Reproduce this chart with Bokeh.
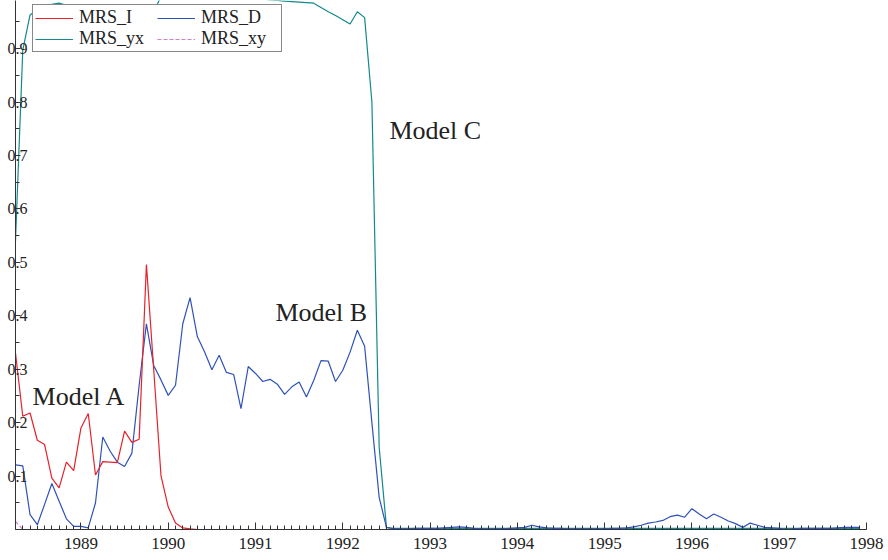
from bokeh.plotting import figure
from bokeh.models import Legend, LegendItem, FixedTicker, Range1d, Label, ColumnDataSource
from bokeh.embed import file_html
from bokeh.resources import INLINE

# monthly observations, Apr 1988 .. Dec 1997
start_year, start_month = 1988, 4
end_year, end_month = 1997, 12
t = [y + (m - 1) / 12 for y in range(start_year, end_year + 1) for m in range(1, 13)
     if (y, m) >= (start_year, start_month) and (y, m) <= (end_year, end_month)]

mrs_i = [0.330, 0.212, 0.218, 0.167, 0.159, 0.096, 0.078, 0.126, 0.110, 0.190, 0.217, 0.102,
         0.127, 0.126, 0.125, 0.184, 0.163, 0.169, 0.496, 0.300, 0.101, 0.042, 0.012, 0.003,
         0.001, 0.000, 0.000, 0.000, 0.000, 0.000, 0.000, 0.000, 0.000, 0.000, 0.000, 0.000,
         0.000, 0.000, 0.000, 0.000, 0.000, 0.000, 0.000, 0.000, 0.000, 0.000, 0.000, 0.000,
         0.000, 0.000, 0.000, 0.000, 0.000, 0.000, 0.000, 0.000, 0.000, 0.000, 0.000, 0.000,
         0.000, 0.000, 0.000, 0.000, 0.000, 0.000, 0.000, 0.000, 0.000, 0.000, 0.000, 0.000,
         0.000, 0.000, 0.000, 0.000, 0.000, 0.000, 0.000, 0.000, 0.000, 0.000, 0.000, 0.000,
         0.000, 0.000, 0.000, 0.000, 0.000, 0.000, 0.000, 0.000, 0.000, 0.000, 0.000, 0.000,
         0.000, 0.000, 0.000, 0.000, 0.000, 0.000, 0.000, 0.000, 0.000, 0.000, 0.000, 0.000,
         0.000, 0.000, 0.000, 0.000, 0.000, 0.000, 0.000, 0.000, 0.000]

mrs_d = [0.121, 0.119, 0.028, 0.009, 0.047, 0.086, 0.053, 0.020, 0.006, 0.006, 0.003, 0.050,
         0.173, 0.147, 0.126, 0.118, 0.143, 0.270, 0.385, 0.307, 0.280, 0.251, 0.270, 0.385,
         0.434, 0.361, 0.332, 0.299, 0.326, 0.294, 0.290, 0.226, 0.305, 0.292, 0.277, 0.281,
         0.272, 0.253, 0.267, 0.276, 0.248, 0.279, 0.316, 0.315, 0.277, 0.298, 0.332, 0.373,
         0.343, 0.200, 0.060, 0.004, 0.001, 0.001, 0.001, 0.002, 0.002, 0.002, 0.002, 0.003,
         0.004, 0.005, 0.004, 0.002, 0.001, 0.001, 0.001, 0.001, 0.002, 0.003, 0.004, 0.008,
         0.005, 0.003, 0.002, 0.002, 0.001, 0.001, 0.001, 0.001, 0.001, 0.001, 0.002, 0.002,
         0.003, 0.005, 0.008, 0.012, 0.014, 0.017, 0.024, 0.027, 0.023, 0.039, 0.029, 0.020,
         0.029, 0.023, 0.016, 0.011, 0.004, 0.012, 0.008, 0.004, 0.003, 0.002, 0.000, 0.001,
         0.002, 0.002, 0.002, 0.002, 0.002, 0.003, 0.004, 0.004, 0.004]

mrs_yx = [0.540, 0.897, 0.963, 0.973, 0.979, 0.983, 0.985, 0.981, 0.980, 0.979, 0.979, 0.978,
          0.977, 0.976, 0.975, 0.974, 0.973, 0.972, 0.971, 0.968, 0.998, 0.998, 0.999, 0.999,
          1.000, 1.000, 1.000, 0.999, 0.999, 0.998, 0.997, 0.996, 0.995, 0.994, 0.993, 0.991,
          0.990, 0.989, 0.988, 0.987, 0.986, 0.985, 0.977, 0.969, 0.962, 0.954, 0.946, 0.969,
          0.958, 0.800, 0.154, 0.004, 0.002, 0.002, 0.002, 0.002, 0.002, 0.002, 0.002, 0.002,
          0.002, 0.002, 0.002, 0.002, 0.002, 0.002, 0.002, 0.002, 0.002, 0.002, 0.002, 0.002,
          0.002, 0.002, 0.002, 0.002, 0.002, 0.002, 0.002, 0.002, 0.002, 0.002, 0.002, 0.002,
          0.002, 0.002, 0.002, 0.002, 0.002, 0.002, 0.002, 0.002, 0.002, 0.002, 0.002, 0.002,
          0.002, 0.002, 0.002, 0.002, 0.002, 0.002, 0.002, 0.002, 0.002, 0.002, 0.002, 0.002,
          0.002, 0.002, 0.002, 0.002, 0.002, 0.002, 0.002, 0.002, 0.002]

mrs_xy = [0.015, 0.000, 0.000, 0.000, 0.000, 0.000, 0.000, 0.000, 0.000, 0.000, 0.000, 0.000,
          0.000, 0.000, 0.000, 0.000, 0.000, 0.000, 0.000, 0.000, 0.000, 0.000, 0.000, 0.000,
          0.000, 0.000, 0.000, 0.000, 0.000, 0.000, 0.000, 0.000, 0.000, 0.000, 0.000, 0.000,
          0.000, 0.000, 0.000, 0.000, 0.000, 0.000, 0.000, 0.000, 0.000, 0.000, 0.000, 0.000,
          0.000, 0.000, 0.000, 0.000, 0.000, 0.000, 0.000, 0.000, 0.000, 0.000, 0.000, 0.000,
          0.000, 0.000, 0.000, 0.000, 0.000, 0.000, 0.000, 0.000, 0.000, 0.000, 0.000, 0.000,
          0.000, 0.000, 0.000, 0.000, 0.000, 0.000, 0.000, 0.000, 0.000, 0.000, 0.000, 0.000,
          0.000, 0.000, 0.000, 0.000, 0.000, 0.000, 0.000, 0.000, 0.000, 0.000, 0.000, 0.000,
          0.000, 0.000, 0.000, 0.000, 0.000, 0.000, 0.000, 0.000, 0.000, 0.000, 0.000, 0.000,
          0.000, 0.000, 0.000, 0.000, 0.000, 0.000, 0.000, 0.000, 0.000]

year_ticks = [1989, 1990, 1991, 1992, 1993, 1994, 1995, 1996, 1997, 1998]
y_ticks = [0.1, 0.2, 0.3, 0.4, 0.5, 0.6, 0.7, 0.8, 0.9]
y_minor = [0.05, 0.15, 0.25, 0.35, 0.45, 0.55, 0.65, 0.75, 0.85, 0.95]
month_ticks = [1988 + k / 12 for k in range(3, 12 * 10 + 1)]

notes = [("Model A", 1988.445, 0.249), ("Model B", 1991.228, 0.406), ("Model C", 1992.534, 0.747)]

series = [("MRS_I", mrs_i, "#e8202a", "solid"),
          ("MRS_D", mrs_d, "#2f52b8", "solid"),
          ("MRS_yx", mrs_yx, "#12898a", "solid"),
          ("MRS_xy", mrs_xy, "#d27fca", "4 2")]

FONT = "Liberation Serif"
TXT = "#222222"

p = figure(width=886, height=558, output_backend="svg", toolbar_location=None,
           x_range=Range1d(1988.25, 1998.0), y_range=Range1d(0.0, 0.99),
           min_border_left=15, min_border_top=0, min_border_right=20, min_border_bottom=29)
p.outline_line_color = None
p.xgrid.visible = False
p.ygrid.visible = False
p.background_fill_color = "white"
p.border_fill_color = "white"

src = ColumnDataSource(dict(t=t, MRS_I=mrs_i, MRS_D=mrs_d, MRS_yx=mrs_yx, MRS_xy=mrs_xy))
rends = {}
for name, vals, col, dash in [series[2], series[1], series[3], series[0]]:
    rends[name] = p.line("t", name, source=src, line_color=col, line_width=1.2, line_dash=dash)

xa = p.xaxis[0]
xa.ticker = FixedTicker(ticks=year_ticks, minor_ticks=month_ticks)
xa.major_tick_in = 7
xa.major_tick_out = 0
xa.minor_tick_in = 4
xa.minor_tick_out = 0
xa.axis_line_color = "#333333"
xa.major_tick_line_color = "#333333"
xa.minor_tick_line_color = "#333333"
xa.major_label_text_font = FONT
xa.major_label_text_font_size = "17px"
xa.major_label_text_color = TXT
xa.major_label_standoff = 8

ya = p.yaxis[0]
ya.ticker = FixedTicker(ticks=y_ticks, minor_ticks=y_minor)
ya.major_tick_in = 5
ya.major_tick_out = 0
ya.minor_tick_in = 4
ya.minor_tick_out = 0
ya.axis_line_color = "#333333"
ya.major_tick_line_color = "#333333"
ya.minor_tick_line_color = "#333333"
ya.major_label_text_font = FONT
ya.major_label_text_font_size = "16px"
ya.major_label_text_color = TXT
ya.major_label_standoff = -12

for txt, x, y in notes:
    p.add_layout(Label(x=x, y=y, text=txt, text_font=FONT, text_font_size="26px",
                       text_color=TXT, text_baseline="alphabetic", text_align="left"))

legend = Legend(items=[LegendItem(label=n, renderers=[rends[n]]) for n in ["MRS_I", "MRS_yx", "MRS_D", "MRS_xy"]],
                location=(17, 477), ncols=2, orientation="vertical",
                label_text_font=FONT, label_text_font_size="18px", label_text_color=TXT,
                glyph_width=38, glyph_height=16, label_height=16, label_width=78,
                label_standoff=6, spacing=0, padding=2, margin=0,
                border_line_color="#111111", border_line_width=1.2,
                background_fill_color="white", background_fill_alpha=1.0)
p.add_layout(legend)

open("out.html", "w").write(file_html(p, INLINE))
